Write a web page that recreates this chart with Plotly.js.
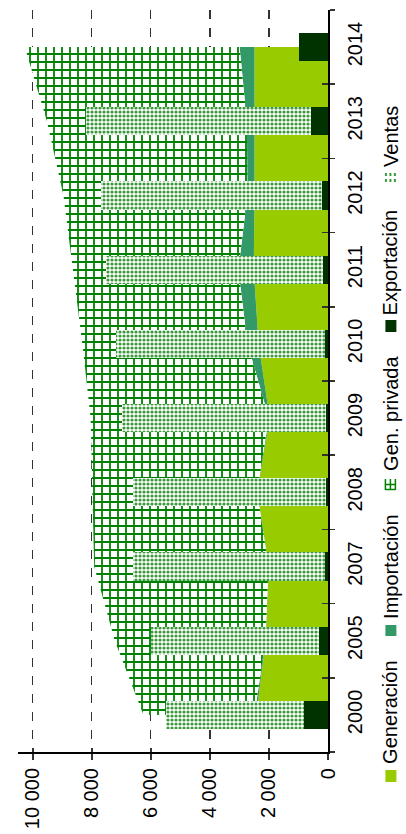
<!DOCTYPE html>
<html>
<head>
<meta charset="utf-8">
<script src="https://cdn.plot.ly/plotly-3.0.1.min.js"></script>
<style>
  html, body { margin: 0; padding: 0; background: #fff; }
  #chart { width: 406px; height: 834px; }
</style>
</head>
<body>
<div id="chart"></div>
<script>
// Balance eléctrico por año (gráfico girado 90°)
const years = ["2000", "2005", "2007", "2008", "2009", "2010", "2011", "2012", "2013", "2014"];
const generacion = [2430, 2110, 2010, 2390, 1975, 2350, 2515, 2490, 2490, 2490];
const importacion = [60, 10, 5, 10, 30, 375, 520, 240, 258, 505];
const genPrivada = [3760, 5100, 5905, 5580, 6035, 5595, 5605, 6230, 6772, 7275];
const exportacion = [829, 311, 118, 60, 60, 118, 175, 196, 592, 988];
const ventas = [4646, 5672, 6487, 6545, 6918, 7050, 7331, 7479, 7614, 0];

const legendNames = ["Generación", "Importación", "Gen. privada", "Exportación", "Ventas"];

const C_GEN = "#99cc00";
const C_IMP = "#339966";
const C_PRIV = "#008000";
const C_EXP = "#003300";
const C_VEN = "#3a9a3a";

// plot area in pixels
const L = 18, R = 328.5, T = 10, B = 752;
const px = (x) => (x - L) / (R - L);
const py = (y) => (B - y) / (B - T);

const FONT = "Liberation Sans, Arial, sans-serif";

const traces = [
  {
    type: "scatter", mode: "none", orientation: "h", stackgroup: "areas",
    x: generacion, y: years, fill: "tonextx", fillcolor: C_GEN,
    name: legendNames[0], hoverinfo: "skip",
  },
  {
    type: "scatter", mode: "none", orientation: "h", stackgroup: "areas",
    x: importacion, y: years, fill: "tonextx", fillcolor: C_IMP,
    name: legendNames[1], hoverinfo: "skip",
  },
  {
    type: "scatter", mode: "none", orientation: "h", stackgroup: "areas",
    x: genPrivada, y: years, fill: "tonextx", fillcolor: "#ffffff",
    fillpattern: { shape: "+", fgcolor: C_PRIV, bgcolor: "#ffffff", size: 8, solidity: 0.4 },
    name: legendNames[2], hoverinfo: "skip",
  },
  // bars on the overlaid axes so they sit above the areas
  {
    type: "bar", orientation: "h", x: exportacion, y: years, width: 0.38,
    xaxis: "x2", yaxis: "y2",
    marker: { color: C_EXP, line: { width: 0 } },
    name: legendNames[3], hoverinfo: "skip",
  },
  {
    type: "bar", orientation: "h", x: ventas, y: years, width: 0.38,
    xaxis: "x2", yaxis: "y2",
    marker: {
      color: "#ffffff", line: { width: 0 },
      pattern: { shape: ".", fgcolor: C_VEN, bgcolor: "#ffffff", size: 4, solidity: 0.5 },
    },
    name: legendNames[4], hoverinfo: "skip",
  },
];

const valueAxis = {
  range: [10500, 0],
  dtick: 2000,
  tick0: 0,
  tickformat: ",",
  tickangle: -90,
  showgrid: true,
  gridcolor: "#333333",
  griddash: "dash",
  gridwidth: 1.2,
  zeroline: false,
  showline: true,
  linecolor: "#000000",
  linewidth: 2,
  ticks: "outside",
  ticklen: 6,
  tickwidth: 1.5,
  tickcolor: "#333333",
  tickfont: { family: FONT, size: 20, color: "#000000" },
  fixedrange: true,
};

const catAxis = {
  type: "category",
  categoryorder: "array",
  categoryarray: years,
  range: [-0.5, years.length - 0.5],
  side: "right",
  tickson: "boundaries",
  tickangle: -90,
  ticklabelstandoff: 8,
  showgrid: false,
  zeroline: false,
  showline: true,
  linecolor: "#000000",
  linewidth: 2,
  ticks: "outside",
  ticklen: 5,
  tickwidth: 1.5,
  tickcolor: "#333333",
  tickfont: { family: FONT, size: 20, color: "#000000" },
  fixedrange: true,
};

const layout = {
  width: 406,
  height: 834,
  margin: { l: L, r: 406 - R, t: T, b: 834 - B, pad: 0 },
  paper_bgcolor: "#ffffff",
  plot_bgcolor: "#ffffff",
  separators: ", ",
  showlegend: false,
  barmode: "stack",
  font: { family: FONT, size: 20, color: "#000000" },
  xaxis: valueAxis,
  yaxis: catAxis,
  xaxis2: {
    overlaying: "x", range: [10500, 0], dtick: 2000, tick0: 0,
    showgrid: false, zeroline: false, showticklabels: false,
    ticks: "inside", ticklen: 4, tickwidth: 1.5, tickcolor: "#333333", fixedrange: true,
  },
  yaxis2: {
    overlaying: "y", type: "category", categoryorder: "array", categoryarray: years,
    range: [-0.5, years.length - 0.5], side: "right", tickson: "boundaries",
    showgrid: false, zeroline: false, showticklabels: false,
    ticks: "inside", ticklen: 6, tickwidth: 1.5, tickcolor: "#333333", fixedrange: true,
  },
  annotations: [],
  shapes: [],
};

// legend, drawn rotated like the rest of the chart
const legendText = [765, 620, 472, 316, 168];
legendNames.forEach((name, i) => {
  layout.annotations.push({
    xref: "paper", yref: "paper",
    x: px(391), y: py(legendText[i]),
    xanchor: "center", yanchor: "bottom",
    text: name, textangle: -90, showarrow: false, borderpad: 0,
    font: { family: FONT, size: 20, color: "#000000" },
  });
});

const sq = (x0, y0, x1, y1, color) => ({
  type: "rect", xref: "paper", yref: "paper",
  x0: px(x0), x1: px(x1), y0: py(y1), y1: py(y0),
  fillcolor: color, line: { width: 0 },
});
const seg = (x0, y0, x1, y1, color, w, dash) => ({
  type: "line", xref: "paper", yref: "paper",
  x0: px(x0), x1: px(x1), y0: py(y0), y1: py(y1),
  line: { color: color, width: w, dash: dash || "solid" },
});

layout.shapes.push(sq(386, 770, 397, 782, C_GEN));
layout.shapes.push(sq(386, 625, 397, 636, C_IMP));
// Gen. privada key (grid)
layout.shapes.push(seg(386, 479, 386, 490, C_PRIV, 1.5));
layout.shapes.push(seg(396, 479, 396, 490, C_PRIV, 1.5));
layout.shapes.push(seg(386, 484.5, 396, 484.5, C_PRIV, 1.5));
layout.shapes.push(seg(391, 479, 391, 490, C_PRIV, 1.5));
layout.shapes.push(seg(386, 489.5, 396, 489.5, C_PRIV, 1.5));
layout.shapes.push(sq(386, 320, 397, 332, C_EXP));
// Ventas key (dots)
layout.shapes.push(seg(386.5, 173, 386.5, 183, C_VEN, 2, "dot"));
layout.shapes.push(seg(391, 173, 391, 183, C_VEN, 2, "dot"));
layout.shapes.push(seg(395.5, 173, 395.5, 183, C_VEN, 2, "dot"));

Plotly.newPlot("chart", traces, layout, { displayModeBar: false, staticPlot: true });
</script>
</body>
</html>
